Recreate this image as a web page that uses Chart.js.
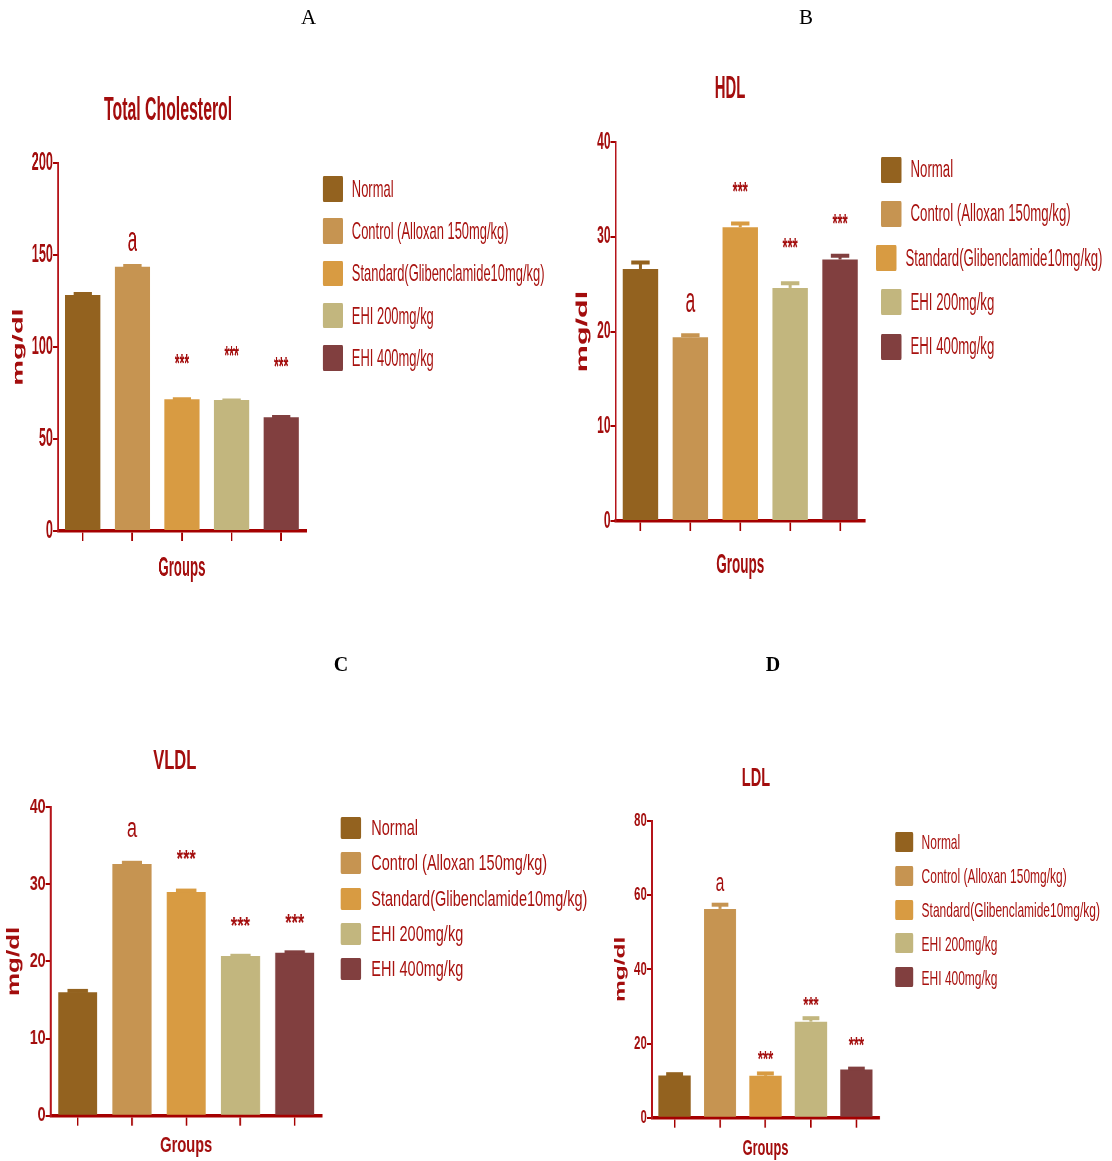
<!DOCTYPE html>
<html>
<head>
<meta charset="utf-8">
<script src="https://cdn.jsdelivr.net/npm/chart.js@4.4.1/dist/chart.umd.min.js"></script>
<style>
  html, body { margin: 0; padding: 0; background: #fff; }
  body { width: 1112px; height: 1161px; position: relative; overflow: hidden;
         font-family: 'Liberation Sans', Arial, sans-serif; }
  .panel { position: absolute; top: 0; left: 0; height: 1161px; transform-origin: 0 0; }
  .panel canvas { position: absolute; }
  .ttl { position: absolute; font-weight: bold; color: #a30d0d; line-height: 1; white-space: nowrap; }
  .leg { position: absolute; line-height: 1; white-space: nowrap; color: #a8120f; transform-origin: 0 50%; }
  .sw { position: absolute; border-radius: 2px; }
  .letter { position: absolute; font-family: 'Liberation Serif', 'Times New Roman', serif;
            line-height: 1; transform: translate(-50%, -50%); color: #000; }
</style>
</head>
<body>
<script>
// Treatment groups shared by every panel
const groups = [
  'Normal',
  'Control (Alloxan 150mg/kg)',
  'Standard(Glibenclamide10mg/kg)',
  'EHI 200mg/kg',
  'EHI 400mg/kg'
];

// Total cholesterol (mg/dl): mean, SEM, significance mark and the level it sits at
const tcMean   = [128.3, 143.6, 71.6, 71.2, 61.8];
const tcSem    = [1.0, 1.0, 0.6, 0.3, 0.7];
const tcMark   = ['', 'a', '***', '***', '***'];
const tcMarkAt = [null, 157.2, 94.4, 98.6, 92.5];

// HDL (mg/dl)
const hdlMean   = [26.6, 19.4, 31.0, 24.6, 27.6];
const hdlSem    = [0.8, 0.3, 0.5, 0.6, 0.5];
const hdlMark   = ['', 'a', '***', '***', '***'];
const hdlMarkAt = [null, 23.1, 35.5, 29.5, 32.1];

// VLDL (mg/dl)
const vldlMean   = [16.0, 32.6, 29.0, 20.7, 21.1];
const vldlSem    = [0.3, 0.3, 0.3, 0.15, 0.2];
const vldlMark   = ['', 'a', '***', '***', '***'];
const vldlMarkAt = [null, 37.1, 34.0, 25.3, 25.7];

// LDL (mg/dl)
const ldlMean   = [11.4, 56.3, 11.3, 25.9, 13.0];
const ldlSem    = [0.6, 1.4, 0.9, 1.2, 0.5];
const ldlMark   = ['', 'a', '***', '***', '***'];
const ldlMarkAt = [null, 63.0, 17.4, 31.8, 21.2];

// Y axis ranges and tick steps
const tcTicks   = { max: 200, step: 50 };
const hdlTicks  = { max: 40,  step: 10 };
const vldlTicks = { max: 40,  step: 10 };
const ldlTicks  = { max: 80,  step: 20 };

const barColors = ['#93621f', '#c69451', '#d89b42', '#c2b67e', '#813f3f'];
const RED = '#a30d0d';
const FONT = "'Liberation Sans', Arial, sans-serif";

// Panel layout (page pixels). Each panel is drawn in a horizontally condensed frame (sx).
const panels = [
  { letter: 'A', lx: 308.5, ly: 17, lbold: false, lsize: 21,
    title: 'Total Cholesterol', mean: tcMean, sem: tcSem, mark: tcMark, markAt: tcMarkAt, ticks: tcTicks,
    sx: 0.49, axisX: 58, right: 306, top: 163.3, zero: 531, barPct: 0.71,
    titleX: 168, titleY: 108, titleSize: 33, titleK: 0.98,
    tickSize: 26, yTitleX: 18.7, yTitleSize: 29, xTitleY: 569, xTitleSize: 27,
    aSize: 35, starSize: 25,
    legX: 323, legTextX: 352, legY: 188.8, legGap: 42.25, legSize: 24, legK: 1.10, swW: 20, swH: 25.5,
    legShift: [0, 0, 0, 0, 0] },
  { letter: 'B', lx: 806, ly: 17, lbold: false, lsize: 21,
    title: 'HDL', mean: hdlMean, sem: hdlSem, mark: hdlMark, markAt: hdlMarkAt, ticks: hdlTicks,
    sx: 0.5, axisX: 615.5, right: 865, top: 142.3, zero: 521, barPct: 0.71,
    titleX: 730, titleY: 87, titleSize: 32, titleK: 0.93,
    tickSize: 24, yTitleX: 583, yTitleSize: 30.5, xTitleY: 566, xTitleSize: 27,
    aSize: 35, starSize: 26,
    legX: 881, legTextX: 910.5, legY: 169.7, legGap: 44.2, legSize: 23, legK: 1.15, swW: 20.5, swH: 26,
    legShift: [0, 0, -5, 0, 0] },
  { letter: 'C', lx: 341, ly: 663.5, lbold: true, lsize: 20,
    title: 'VLDL', mean: vldlMean, sem: vldlSem, mark: vldlMark, markAt: vldlMarkAt, ticks: vldlTicks,
    sx: 0.68, axisX: 50.7, right: 322, top: 806.7, zero: 1115.7, barPct: 0.72,
    titleX: 175, titleY: 760, titleSize: 28, titleK: 0.87,
    tickSize: 21, yTitleX: 14, yTitleSize: 26, xTitleY: 1146, xTitleSize: 21.5,
    aSize: 27, starSize: 24,
    legX: 341, legTextX: 371, legY: 828, legGap: 35.3, legSize: 22, legK: 0.97, swW: 20, swH: 22,
    legShift: [0, 0, 0, 0, 0] },
  { letter: 'D', lx: 773, ly: 663.5, lbold: true, lsize: 20,
    title: 'LDL', mean: ldlMean, sem: ldlSem, mark: ldlMark, markAt: ldlMarkAt, ticks: ldlTicks,
    sx: 0.6, axisX: 651.7, right: 879, top: 821, zero: 1117.7, barPct: 0.71,
    titleX: 756, titleY: 777.5, titleSize: 25.5, titleK: 0.95,
    tickSize: 19, yTitleX: 620.5, yTitleSize: 24.5, xTitleY: 1149, xTitleSize: 21.5,
    aSize: 26, starSize: 22,
    legX: 895, legTextX: 921.7, legY: 841.7, legGap: 33.9, legSize: 21, legK: 0.95, swW: 18.5, swH: 20,
    legShift: [0, 0, 0, 0, 0] }
];

// Draws SEM error bars (in the bar's colour) and the significance marks above the bars
const errorAndMarks = {
  id: 'errorAndMarks',
  afterDatasetsDraw(chart, args, opts) {
    const { ctx } = chart;
    const y = chart.scales.y;
    const ds = chart.data.datasets[0];
    const meta = chart.getDatasetMeta(0);
    meta.data.forEach((bar, i) => {
      const v = ds.data[i];
      const yVal = y.getPixelForValue(v);
      const yTop = y.getPixelForValue(v + opts.sem[i]);
      const half = bar.width * 0.26;
      ctx.save();
      ctx.strokeStyle = ds.backgroundColor[i];
      ctx.lineWidth = opts.stemWidth;
      ctx.beginPath(); ctx.moveTo(bar.x, yVal); ctx.lineTo(bar.x, yTop); ctx.stroke();
      ctx.lineWidth = 4;
      ctx.beginPath(); ctx.moveTo(bar.x - half, yTop + 1); ctx.lineTo(bar.x + half, yTop + 1); ctx.stroke();
      const m = opts.mark[i];
      if (m) {
        const isStar = m.indexOf('*') >= 0;
        const size = isStar ? opts.starSize : opts.aSize;
        ctx.font = (isStar ? 'bold ' : '') + size + 'px ' + FONT;
        ctx.fillStyle = RED;
        ctx.textAlign = 'center';
        ctx.textBaseline = 'alphabetic';
        const cy = y.getPixelForValue(opts.markAt[i]);
        ctx.fillText(m, bar.x, cy + (isStar ? 0.575 : 0.27) * size);
      }
      ctx.restore();
    });
  }
};

function mount(p) {
  const S = p.sx;
  const X = v => v / S;           // page x -> condensed-frame x
  const wrap = document.createElement('div');
  wrap.className = 'panel';
  wrap.style.width = X(1112) + 'px';
  wrap.style.transform = 'scaleX(' + S + ')';
  document.body.appendChild(wrap);

  // Chart title
  const t = document.createElement('div');
  t.className = 'ttl';
  t.textContent = p.title;
  t.style.fontSize = p.titleSize + 'px';
  t.style.left = X(p.titleX) + 'px';
  t.style.top = p.titleY + 'px';
  t.style.transform = 'translate(-50%, -50%) scaleX(' + p.titleK + ')';
  wrap.appendChild(t);

  // Legend
  groups.forEach((g, i) => {
    const cy = p.legY + i * p.legGap;
    const sh = p.legShift[i];
    const sw = document.createElement('div');
    sw.className = 'sw';
    sw.style.background = barColors[i];
    sw.style.left = X(p.legX + sh) + 'px';
    sw.style.width = X(p.swW) + 'px';
    sw.style.top = (cy - p.swH / 2) + 'px';
    sw.style.height = p.swH + 'px';
    wrap.appendChild(sw);
    const tx = document.createElement('div');
    tx.className = 'leg';
    tx.textContent = g;
    tx.style.fontSize = p.legSize + 'px';
    tx.style.left = X(p.legTextX + sh) + 'px';
    tx.style.top = (cy - p.legSize / 2) + 'px';
    tx.style.height = p.legSize + 'px';
    tx.style.transform = 'scaleX(' + p.legK + ')';
    wrap.appendChild(tx);
  });

  // Canvas holding the axes and bars
  const cl = p.axisX - 56, cr = p.right + 8, ct = p.top - 22, cb = p.xTitleY + 26;
  const cv = document.createElement('canvas');
  const cw = Math.ceil(X(cr - cl));
  const ch = Math.round(cb - ct);
  cv.width = cw; cv.height = ch;
  cv.style.width = cw + 'px'; cv.style.height = ch + 'px';
  cv.style.left = X(cl) + 'px';
  cv.style.top = ct + 'px';
  wrap.appendChild(cv);

  const yLH = p.yTitleSize * 1.2, xLH = p.xTitleSize * 1.2;

  new Chart(cv.getContext('2d'), {
    type: 'bar',
    data: {
      labels: groups,
      datasets: [{
        data: p.mean,
        backgroundColor: barColors,
        borderWidth: 0,
        barPercentage: p.barPct,
        categoryPercentage: 1
      }]
    },
    options: {
      responsive: false,
      animation: false,
      devicePixelRatio: 1,
      layout: { padding: { top: 22, left: 0, bottom: 0, right: cw - X(p.right - cl) } },
      plugins: {
        legend: { display: false },
        tooltip: { enabled: false },
        errorAndMarks: {
          sem: p.sem, mark: p.mark, markAt: p.markAt,
          aSize: p.aSize, starSize: p.starSize, stemWidth: 3 / S
        }
      },
      scales: {
        x: {
          offset: true,
          afterFit: s => { s.height = cb - p.zero; },
          border: { display: true, color: '#a50000', width: 3.5 },
          grid: { display: true, offset: false, drawOnChartArea: false, drawTicks: true,
                  tickLength: 10, color: '#a50000', lineWidth: 1.6 / S, tickWidth: 1.6 / S },
          ticks: { display: false },
          title: { display: true, text: 'Groups', color: RED,
                   font: { family: FONT, size: p.xTitleSize, weight: 'bold' },
                   padding: { top: 0, bottom: (cb - p.xTitleY) - xLH / 2 } }
        },
        y: {
          min: 0, max: p.ticks.max,
          afterFit: s => { s.width = X(p.axisX - cl); },
          border: { display: true, color: '#b5141a', width: 3 },
          grid: { display: true, drawOnChartArea: false, drawTicks: true,
                  tickLength: 5 / S, color: '#a50000', lineWidth: 2, tickWidth: 2 },
          ticks: { stepSize: p.ticks.step, padding: 0, color: RED,
                   font: { family: FONT, size: p.tickSize, weight: 'bold' } },
          title: { display: true, text: 'mg/dl', color: RED,
                   font: { family: FONT, size: p.yTitleSize, weight: 'bold' },
                   padding: { top: X(p.yTitleX - cl) - yLH / 2, bottom: 0 } }
        }
      }
    },
    plugins: [errorAndMarks]
  });

  // Panel letter
  const L = document.createElement('div');
  L.className = 'letter';
  L.textContent = p.letter;
  L.style.left = p.lx + 'px';
  L.style.top = p.ly + 'px';
  L.style.fontSize = p.lsize + 'px';
  L.style.fontWeight = p.lbold ? 'bold' : 'normal';
  document.body.appendChild(L);
}

panels.forEach(mount);
</script>
</body>
</html>
